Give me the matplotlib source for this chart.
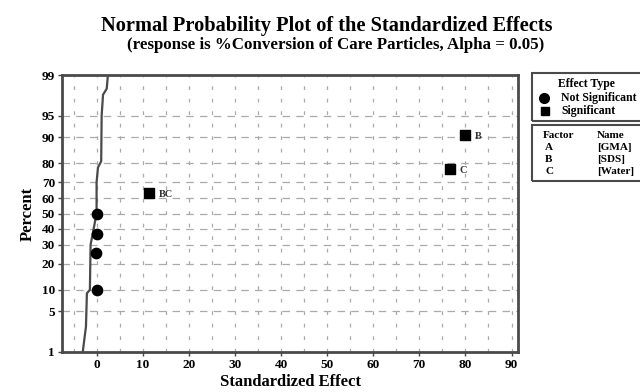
import numpy as np
import matplotlib
matplotlib.use("Agg")
from matplotlib import pyplot as plt
from matplotlib.patches import Rectangle
from statistics import NormalDist

plt.rcParams['font.family'] = ['Liberation Serif', 'DejaVu Serif']
plt.rcParams['font.weight'] = 'bold'
plt.rcParams['axes.labelweight'] = 'bold'

# effects
ns_x = [0.1, -0.15, 0.0, 0.1]
ns_pct = [10.0, 25.5, 36.5, 50.0]
sig_x = [11.3, 76.6, 80.0]
sig_pct = [63.5, 77.2, 90.6]
sig_lab = ["BC", "C", "B"]

# reference line
line_x = [-3.0, -2.3, -2.1, -1.45, -1.3, 0.0, 0.0, 0.3, 1.0, 1.1, 1.4, 2.2, 2.45]
line_pct = [1, 2.9, 9, 10, 30, 50, 70, 78, 81, 95, 97.7, 98.2, 99]

pct_ticks = [1, 5, 10, 20, 30, 40, 50, 60, 70, 80, 90, 95, 99]
x_ticks = [0, 10, 20, 30, 40, 50, 60, 70, 80, 90]

factors = ["A", "B", "C"]
names = ["[GMA]", "[SDS]", "[Water]"]

nd = NormalDist()


def _ppf(p):
    if not np.isfinite(p):
        return np.nan
    return nd.inv_cdf(min(max(p / 100.0, 1e-9), 1 - 1e-9))


def _cdf(z):
    if not np.isfinite(z):
        return np.nan
    return nd.cdf(z) * 100.0


fwd = np.vectorize(_ppf, otypes=[float])
inv = np.vectorize(_cdf, otypes=[float])

fig = plt.figure(figsize=(6.4, 3.92), dpi=100)
ax = fig.add_axes([62/640, 40/392, 456/640, 277/392])
ax.set_yscale('function', functions=(fwd, inv))
ax.set_ylim(1, 99)
ax.set_xlim(-7.5, 91.4)

ax.set_yticks(pct_ticks)
ax.set_yticklabels([str(p) for p in pct_ticks], fontsize=9.5)
ax.set_xticks(x_ticks)
ax.set_xticklabels([str(t) for t in x_ticks], fontsize=9.5)
ax.set_xticks(np.arange(-5, 91, 5), minor=True)
ax.yaxis.set_minor_locator(matplotlib.ticker.NullLocator())
ax.tick_params(axis='both', length=3, width=1, color='#444444', pad=2)
ax.tick_params(axis='x', which='minor', length=0)

ax.grid(True, axis='y', which='major', linestyle=(0, (6, 5)), color='#aaaaaa', lw=0.9)
ax.grid(True, axis='x', which='both', linestyle=(0, (3, 7)), color='#aaaaaa', lw=0.9)
ax.set_axisbelow(True)
for s in ax.spines.values():
    s.set_linewidth(2)
    s.set_color('#4a4a4a')

ax.plot(line_x, line_pct, color='#4a4a4a', lw=1.6, zorder=2)
ax.scatter(ns_x, ns_pct, marker='o', s=55, color='black', zorder=3)
ax.scatter(sig_x, sig_pct, marker='s', s=42, color='black', zorder=3)
for x, p, lab in zip(sig_x, sig_pct, sig_lab):
    ax.annotate(lab, (x, p), xytext=(7, -1), textcoords='offset points',
                fontsize=7.5, va='center', ha='left', color='#333333')

ax.set_xlabel("Standardized Effect", fontsize=12, labelpad=2)
ax.set_ylabel("Percent", fontsize=12, labelpad=4)

fig.text(0.51, 1 - 26/392, "Normal Probability Plot of the Standardized Effects",
         ha='center', va='center', fontsize=14.7)
fig.text(0.524, 1 - 45/392, "(response is %Conversion of Care Particles, Alpha = 0.05)",
         ha='center', va='center', fontsize=12.2)


# legend boxes
def fx(px):
    return px / 640.0


def fy(py):
    return 1 - py / 392.0


fig.patches.append(Rectangle((fx(532), fy(121)), fx(130), 48/392, transform=fig.transFigure,
                             fill=False, lw=1.5, ec='#4a4a4a'))
fig.patches.append(Rectangle((fx(532), fy(181)), fx(130), 56/392, transform=fig.transFigure,
                             fill=False, lw=1.5, ec='#4a4a4a'))
fig.text(fx(558), fy(84), "Effect Type", fontsize=8.5, ha='left', va='center')
fig.lines.append(plt.Line2D([fx(544)], [fy(98)], marker='o', ms=7, color='black',
                            transform=fig.transFigure))
fig.lines.append(plt.Line2D([fx(545)], [fy(111)], marker='s', ms=6, color='black',
                            transform=fig.transFigure))
fig.text(fx(561), fy(98), "Not Significant", fontsize=8.5, ha='left', va='center')
fig.text(fx(561), fy(111), "Significant", fontsize=8.5, ha='left', va='center')

fig.text(fx(543), fy(135), "Factor", fontsize=8, ha='left', va='center')
fig.text(fx(597), fy(135), "Name", fontsize=8, ha='left', va='center')
for i, (f, n) in enumerate(zip(factors, names)):
    fig.text(fx(545), fy(147 + 12.5 * i), f, fontsize=8, ha='left', va='center')
    fig.text(fx(597), fy(147 + 12.5 * i), n, fontsize=8, ha='left', va='center')

fig.savefig("out.png", dpi=100)
